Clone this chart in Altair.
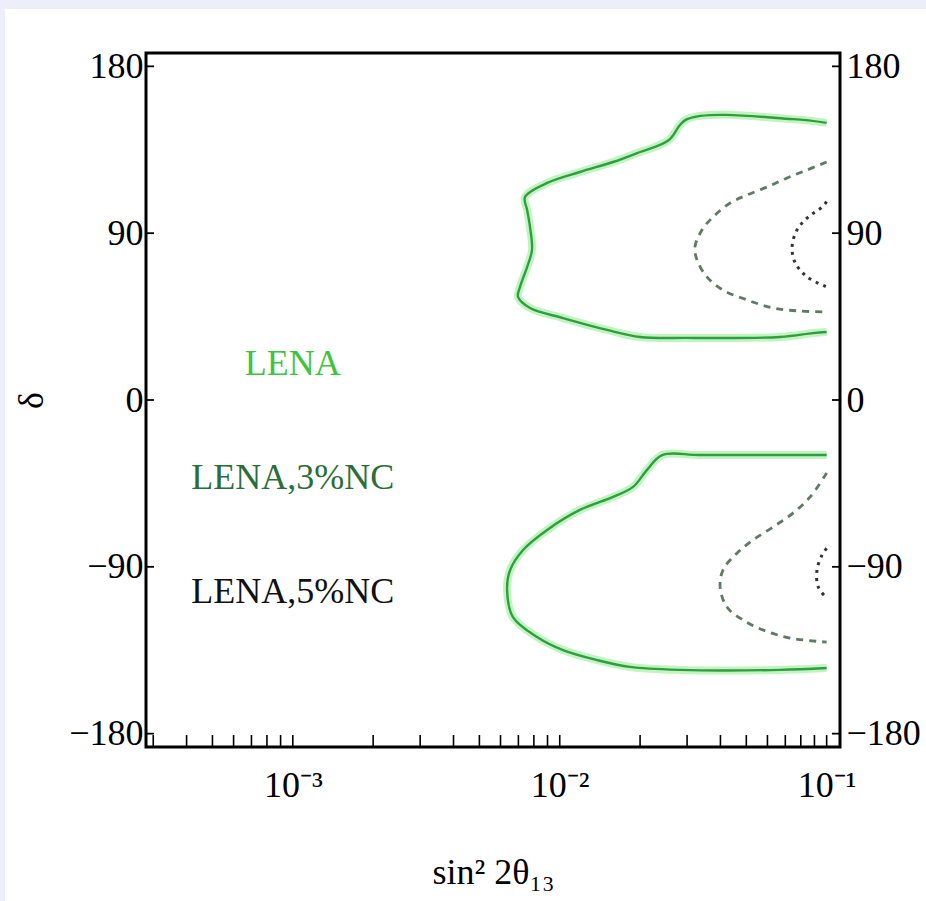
import altair as alt
import pandas as pd

# ---------------- data ----------------
# LENA (solid green), upper and lower contours
lena_up_x = [0.1, 0.0748, 0.030, 0.0255, 0.0195, 0.01585, 0.0119, 0.00897, 0.00741, 0.00755,
             0.00774, 0.00787, 0.00755, 0.0071, 0.00698, 0.00774, 0.01029, 0.01504, 0.0200,
             0.030, 0.0669, 0.0889, 0.1]
lena_up_d = [149.5, 151.5, 151.5, 140.0, 133.2, 128.4, 123.0, 117.1, 109.5, 102.5,
             93.3, 80.9, 71.8, 61.0, 55.6, 49.6, 44.2, 37.8, 34.0,
             33.5, 34.0, 36.1, 36.7]
lena_lo_x = [0.1, 0.0669, 0.0335, 0.0242, 0.0212, 0.01883, 0.01585, 0.0119, 0.00897, 0.00729,
             0.00652, 0.00635, 0.00668, 0.00822, 0.01029, 0.0138, 0.01834, 0.0282, 0.0669, 0.1]
lena_lo_d = [-29.7, -29.7, -29.7, -29.7, -37.8, -46.9, -52.3, -59.3, -70.1, -80.9,
             -91.7, -102.5, -117.1, -127.8, -134.9, -140.3, -144.0, -145.6, -145.6, -144.6]

# LENA,3%NC (dashed)
nc3_up_x = [0.1, 0.0845, 0.0711, 0.0598, 0.0503, 0.0435, 0.0375, 0.0341, 0.0321, 0.0327,
            0.0356, 0.0409, 0.0503, 0.063, 0.0795, 0.1]
nc3_up_d = [128.4, 124.1, 119.8, 114.9, 110.6, 106.3, 98.7, 91.7, 82.5, 75.5,
            66.4, 59.3, 54.0, 49.6, 48.0, 47.5]
nc3_lo_x = [0.1, 0.0867, 0.0748, 0.063, 0.053, 0.0462, 0.0409, 0.0399, 0.0423, 0.0486,
            0.0578, 0.0729, 0.1]
nc3_lo_d = [-39.4, -52.3, -61.0, -68.5, -75.5, -82.5, -91.7, -100.9, -111.7, -118.7,
            -124.1, -128.4, -130.6]

# LENA,5%NC (dotted)
nc5_up_x = [0.1, 0.0961, 0.0852, 0.0774, 0.0742, 0.0763, 0.0845, 0.1]
nc5_up_d = [107.0, 104.1, 98.7, 91.7, 82.5, 73.9, 66.4, 61.0]
nc5_lo_x = [0.1, 0.0961, 0.092, 0.093, 0.1]
nc5_lo_d = [-80.0, -83.6, -91.7, -100.9, -106.8]

# legend texts
legend_text = ["LENA", "LENA,3%NC", "LENA,5%NC"]
legend_x = [0.001, 0.001, 0.001]
legend_d = [13.5, -48.0, -109.5]
legend_color = ["#3fc43f", "#2c6e3a", "#111111"]

# axes
x_tick_values = [0.001, 0.01, 0.1]
x_tick_labels = ["10⁻³", "10⁻²", "10⁻¹"]
x_minor_ticks = [0.0003, 0.0004, 0.0005, 0.0006, 0.0007, 0.0008, 0.0009,
                 0.001, 0.002, 0.003, 0.004, 0.005, 0.006, 0.007, 0.008, 0.009,
                 0.01, 0.02, 0.03, 0.04, 0.05, 0.06, 0.07, 0.08, 0.09, 0.1]
y_tick_values = [-180, -90, 0, 90, 180]
x_domain = [10 ** -3.55, 10 ** -0.95]
y_domain = [-187.2, 187.2]


def curve_frame(parts):
    rows = []
    for cid, xs, ds in parts:
        for i, (xv, dv) in enumerate(zip(xs, ds)):
            rows.append({"curve": cid, "x": xv, "d": dv, "order": i})
    return pd.DataFrame(rows)


solid_df = curve_frame([("up", lena_up_x, lena_up_d), ("lo", lena_lo_x, lena_lo_d)])
dash_df = curve_frame([("up", nc3_up_x, nc3_up_d), ("lo", nc3_lo_x, nc3_lo_d)])
dot_df = curve_frame([("up", nc5_up_x, nc5_up_d), ("lo", nc5_lo_x, nc5_lo_d)])
legend_df = pd.DataFrame({"text": legend_text, "x": legend_x, "d": legend_d, "color": legend_color})

W = 694
H = 694
FONT = "Liberation Serif"

xscale = alt.Scale(type="log", domain=x_domain, nice=False)
yscale = alt.Scale(domain=y_domain, nice=False, zero=False)

label_expr = " : ".join(
    [f"datum.value < {v * 3} ? '{lab}'" for v, lab in zip(x_tick_values[:-1], x_tick_labels[:-1])]
) + f" : '{x_tick_labels[-1]}'"

xaxis = alt.Axis(values=x_tick_values, labelExpr=label_expr, title="sin² 2θ₁₃",
                 ticks=False, tickSize=0, domain=False, grid=False, labelPadding=21,
                 labelFont=FONT, labelFontSize=36, labelColor="black",
                 titleFont=FONT, titleFontSize=36, titleFontWeight="normal", titleColor="black",
                 titleBaseline="alphabetic", titleY=136, titleX=W / 2, titleAlign="center",
                 zindex=1)
yaxis_left = alt.Axis(values=y_tick_values, title="δ", orient="left",
                      ticks=False, tickSize=0, domain=False, grid=False, labelPadding=3,
                      labelFont=FONT, labelFontSize=36, labelColor="black",
                      titleFont=FONT, titleFontSize=36, titleFontWeight="normal", titleColor="black",
                      titleAngle=270, titleX=-115, titleY=H / 2, titleAlign="center",
                      titleBaseline="middle", zindex=1)
yaxis_right = alt.Axis(values=y_tick_values, title=None, orient="right",
                       ticks=False, tickSize=0, domain=False, grid=False, labelPadding=6,
                       labelFont=FONT, labelFontSize=36, labelColor="black", zindex=1)

X = alt.X("x:Q", scale=xscale, axis=xaxis)

# page decoration: lavender strips at top and left edge
deco = alt.Chart(alt.Data(values=[{"k": 1}])).mark_rect(color="#eeeefa").encode(
    x=alt.value(-146), x2=alt.value(W + 86), y=alt.value(-53), y2=alt.value(-44)
)
deco2 = alt.Chart(alt.Data(values=[{"k": 1}])).mark_rect(color="#eeeefa").encode(
    x=alt.value(-146), x2=alt.value(-141), y=alt.value(-53), y2=alt.value(H + 154)
)

solid_glow = alt.Chart(solid_df).mark_line(
    color="#a8f0a8", strokeWidth=8, opacity=0.7, interpolate="catmull-rom"
).encode(x=X, y=alt.Y("d:Q", scale=yscale, axis=None), detail="curve:N", order="order:Q")
solid_core = alt.Chart(solid_df).mark_line(
    color="#2f9e3f", strokeWidth=2.4, interpolate="catmull-rom"
).encode(x=X, y=alt.Y("d:Q", scale=yscale, axis=yaxis_left), detail="curve:N", order="order:Q")
dashed = alt.Chart(dash_df).mark_line(
    color="#5f7a62", strokeWidth=2.8, strokeDash=[7, 6], interpolate="catmull-rom"
).encode(x=X, y=alt.Y("d:Q", scale=yscale, axis=None), detail="curve:N", order="order:Q")
dotted = alt.Chart(dot_df).mark_line(
    color="#333333", strokeWidth=3, strokeDash=[3, 5], interpolate="catmull-rom"
).encode(x=X, y=alt.Y("d:Q", scale=yscale, axis=None), detail="curve:N", order="order:Q")

labels = alt.Chart(legend_df).mark_text(
    font=FONT, fontSize=36, align="center", baseline="alphabetic"
).encode(x=X, y=alt.Y("d:Q", scale=yscale, axis=None), text="text:N",
         color=alt.Color("color:N", scale=None))

bottom_ticks = alt.Chart(pd.DataFrame({"x": x_minor_ticks})).mark_rule(
    color="black", strokeWidth=1.6
).encode(x=X, y=alt.value(H), y2=alt.value(H - 12))

ytick_df = pd.DataFrame({"d": y_tick_values})
left_ticks = alt.Chart(ytick_df).mark_rule(color="black", strokeWidth=1.8).encode(
    y=alt.Y("d:Q", scale=yscale, axis=None), x=alt.value(0), x2=alt.value(8)
)
right_ticks = alt.Chart(ytick_df).mark_rule(color="black", strokeWidth=1.8).encode(
    y=alt.Y("d:Q", scale=yscale, axis=yaxis_right), x=alt.value(W - 8), x2=alt.value(W)
)

chart = alt.layer(
    deco, deco2, solid_glow, solid_core, dashed, dotted, labels,
    bottom_ticks, left_ticks, right_ticks
).resolve_axis(y="independent").properties(
    width=W, height=H,
    padding={"left": 146, "top": 53, "right": 86, "bottom": 154},
    autosize=alt.AutoSizeParams(type="none"),
    background="white",
).configure_view(stroke="black", strokeWidth=3)

chart.save("out.html", embed_options={"renderer": "svg", "actions": False})
